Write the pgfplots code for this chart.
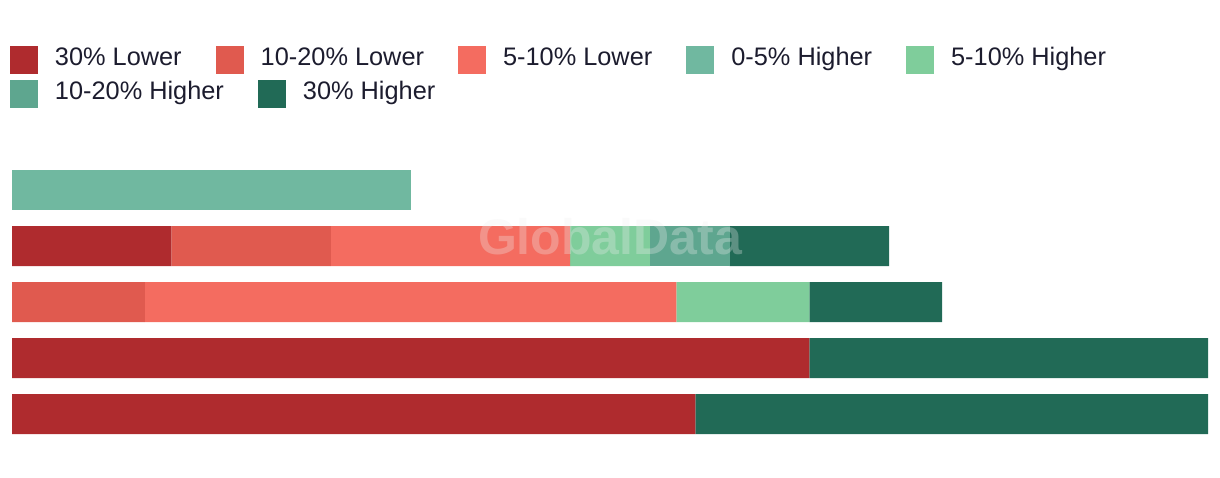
\documentclass[border=0pt]{standalone}
\usepackage{pgfplots}
\pgfplotsset{compat=1.18}
\usepackage{fontspec}
\setmainfont{Liberation Sans}
\definecolor{cA}{HTML}{AF2B2E}
\definecolor{cB}{HTML}{E05A4F}
\definecolor{cC}{HTML}{F46C60}
\definecolor{cD}{HTML}{70B8A0}
\definecolor{cE}{HTML}{7FCD9B}
\definecolor{cF}{HTML}{5EA68F}
\definecolor{cG}{HTML}{216A56}
\definecolor{txt}{HTML}{1C1C2E}
\definecolor{wm}{HTML}{EEEEEE}
\pgfplotsset{
  sq/.style={draw=none, fill=#1,
    legend image code/.code={\fill[draw=none, fill=#1] (0pt,-10.5pt) rectangle (21pt,10.5pt);}},
  common/.style={
    at={(9pt,27pt)}, anchor=south west,
    scale only axis, width=897pt, height=210pt,
    xmin=0, xmax=100, ymin=0.5, ymax=5.5, y dir=reverse,
    hide axis, clip=false,
    legend columns=-1,
    legend style={draw=none, fill=none, inner sep=0pt, outer sep=0pt,
      column sep=0pt, row sep=0pt,
      font=\fontsize{19pt}{23pt}\selectfont, text=txt,
      nodes={inner sep=0pt, text height=1.05em, text depth=0.25em},
      cells={anchor=west},
      /tikz/every odd column/.append style={column sep=12.75pt},
      /tikz/every even column/.append style={column sep=25.5pt},
      anchor=west},
  }
}
\begin{document}
\begin{tikzpicture}
\begin{axis}[common,
  xbar stacked, bar width=30pt,
  legend style={at={(axis description cs:-0.001672,1.36429)}},
]
\addplot[forget plot, fill=cA, draw=none] coordinates {(0,1) (13.333,2) (0,3) (66.667,4) (57.143,5)};
\addplot[forget plot, fill=cB, draw=none] coordinates {(0,1) (13.333,2) (11.111,3) (0,4) (0,5)};
\addplot[forget plot, fill=cC, draw=none] coordinates {(0,1) (20,2) (44.444,3) (0,4) (0,5)};
\addplot[forget plot, fill=cD, draw=none] coordinates {(33.333,1) (0,2) (0,3) (0,4) (0,5)};
\addplot[forget plot, fill=cE, draw=none] coordinates {(0,1) (6.667,2) (11.111,3) (0,4) (0,5)};
\addplot[forget plot, fill=cF, draw=none] coordinates {(0,1) (6.667,2) (0,3) (0,4) (0,5)};
\addplot[forget plot, fill=cG, draw=none] coordinates {(0,1) (13.333,2) (11.111,3) (33.333,4) (42.857,5)};
\addlegendimage{sq=cA}\addlegendentry{30\% Lower}
\addlegendimage{sq=cB}\addlegendentry{10-20\% Lower}
\addlegendimage{sq=cC}\addlegendentry{5-10\% Lower}
\addlegendimage{sq=cD}\addlegendentry{0-5\% Higher}
\addlegendimage{sq=cE}\addlegendentry{5-10\% Higher}
\end{axis}
\begin{axis}[common,
  legend style={at={(axis description cs:-0.001672,1.24286)}},
]
\addlegendimage{sq=cF}\addlegendentry{10-20\% Higher}
\addlegendimage{sq=cG}\addlegendentry{30\% Higher}
\node[anchor=base, font=\bfseries\fontsize{37.5pt}{40pt}\selectfont, text=wm, opacity=0.3, inner sep=0pt] at (axis cs:50,2.16) {GlobalData};
\end{axis}
\pgfresetboundingbox
\path (0,0) rectangle (915pt,358.5pt);
\end{tikzpicture}
\end{document}
